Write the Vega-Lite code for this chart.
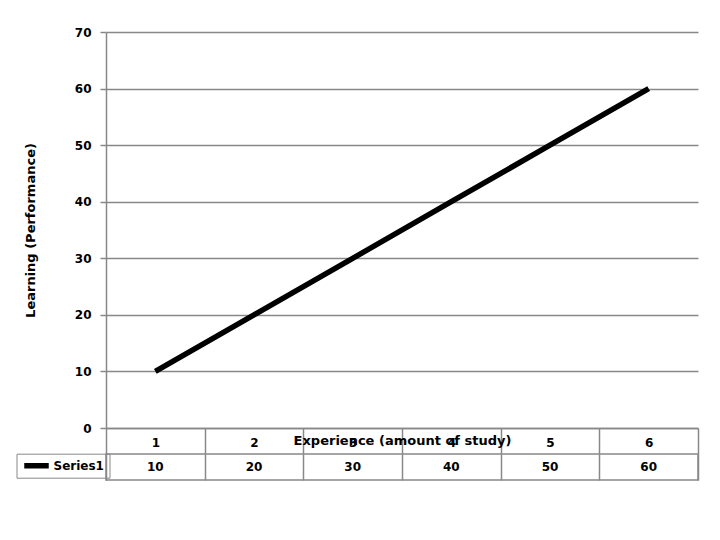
{
  "$schema": "https://vega.github.io/schema/vega-lite/v6.json",
  "padding": {"left": 16, "top": 26, "right": 5, "bottom": 5},
  "background": "white",
  "config": {
    "font": "DejaVu Sans",
    "view": {"stroke": null},
    "axis": {"labelFont": "DejaVu Sans", "titleFont": "DejaVu Sans", "labelColor": "#000", "titleColor": "#000", "labelFontWeight": "bold", "titleFontWeight": "bold"}
  },
  "bounds": "flush",
  "spacing": 26,
  "vconcat": [
    {
      "width": 592,
      "height": 396,
      "data": {"values": [
        {"exp": "1", "value": 10},
        {"exp": "2", "value": 20},
        {"exp": "3", "value": 30},
        {"exp": "4", "value": 40},
        {"exp": "5", "value": 50},
        {"exp": "6", "value": 60}
      ]},
      "mark": {"type": "line", "strokeWidth": 5.5, "strokeCap": "butt"},
      "encoding": {
        "x": {
          "field": "exp", "type": "ordinal",
          "scale": {"paddingInner": 0, "paddingOuter": 0},
          "axis": {
            "title": "Experience (amount of study)",
            "labelAngle": 0, "labelFontSize": 12, "labelPadding": -17, "labelBaseline": "top",
            "tickBand": "extent", "tickSize": 26, "tickColor": "#888", "tickWidth": 1.5,
            "domainColor": "#888", "domainWidth": 1.5, "grid": false,
            "titleFontSize": 13, "titleY": 12, "titleBaseline": "middle"
          }
        },
        "y": {
          "field": "value", "type": "quantitative",
          "scale": {"domain": [0, 70], "nice": false},
          "axis": {
            "title": "Learning (Performance)",
            "values": [0, 10, 20, 30, 40, 50, 60, 70],
            "labelFontSize": 12, "labelPadding": 9,
            "tickSize": 6, "tickColor": "#888", "tickWidth": 1.5,
            "domainColor": "#888", "domainWidth": 1.5,
            "gridColor": "#888", "gridWidth": 1.5, "gridOpacity": 1,
            "titleFontSize": 13, "titleX": -76, "titleBaseline": "middle"
          }
        },
        "stroke": {
          "datum": "Series1",
          "scale": {"range": ["#000"]},
          "legend": {
            "title": null, "orient": "none", "legendX": -89.5, "legendY": 421.7,
            "symbolType": "stroke", "symbolSize": 600, "symbolStrokeWidth": 5.5,
            "labelFont": "DejaVu Sans", "labelFontSize": 12, "labelFontWeight": "bold", "labelColor": "#000",
            "labelOffset": 2, "padding": 5, "clipHeight": 14, "strokeColor": "#888"
          }
        }
      }
    },
    {
      "width": 592,
      "height": 26,
      "view": {"stroke": "#888", "strokeWidth": 1.5},
      "data": {"values": [
        {"exp": "1", "value": 10},
        {"exp": "2", "value": 20},
        {"exp": "3", "value": 30},
        {"exp": "4", "value": 40},
        {"exp": "5", "value": 50},
        {"exp": "6", "value": 60}
      ]},
      "mark": {"type": "text", "font": "DejaVu Sans", "fontSize": 12, "fontWeight": "bold", "color": "#000"},
      "encoding": {
        "x": {
          "field": "exp", "type": "ordinal",
          "scale": {"paddingInner": 0, "paddingOuter": 0},
          "axis": {"title": null, "labels": false, "ticks": false, "domain": false, "grid": true, "tickBand": "extent", "gridColor": "#888", "gridWidth": 1.5, "gridOpacity": 1}
        },
        "text": {"field": "value", "type": "quantitative"}
      }
    }
  ]
}
